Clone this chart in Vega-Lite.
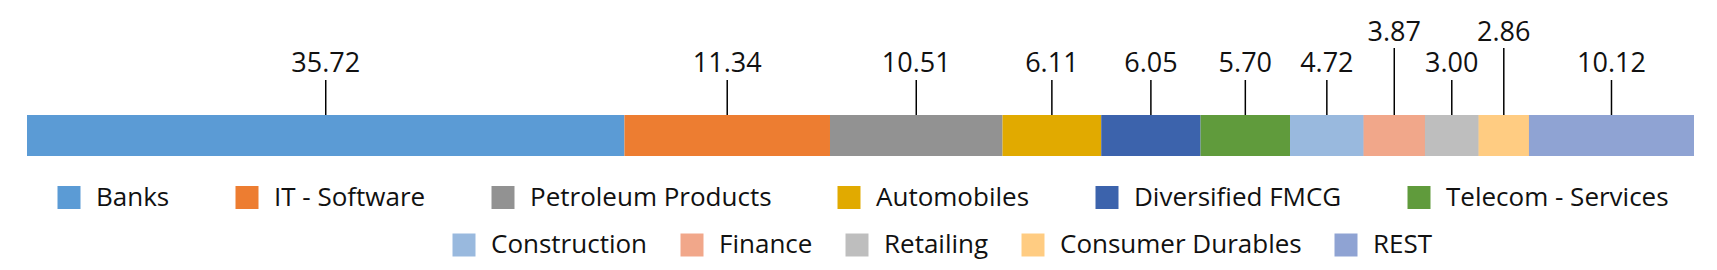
{
  "$schema": "https://vega.github.io/schema/vega-lite/v6.json",
  "autosize": "none",
  "width": 1667,
  "height": 270,
  "padding": {"left": 27, "right": 23, "top": 0, "bottom": 0},
  "background": "white",
  "config": {
    "view": {"stroke": null},
    "text": {"font": "Open Sans"},
    "legend": {"labelFont": "Open Sans", "padding": 0}
  },
  "data": {
    "values": [
      {"sector": "Banks", "value": 35.72, "share": 35.84, "idx": 1},
      {"sector": "IT - Software", "value": 11.34, "share": 12.33, "idx": 2},
      {"sector": "Petroleum Products", "value": 10.51, "share": 10.35, "idx": 3},
      {"sector": "Automobiles", "value": 6.11, "share": 5.92, "idx": 4},
      {"sector": "Diversified FMCG", "value": 6.05, "share": 5.96, "idx": 5},
      {"sector": "Telecom - Services", "value": 5.70, "share": 5.37, "idx": 6},
      {"sector": "Construction", "value": 4.72, "share": 4.41, "idx": 7},
      {"sector": "Finance", "value": 3.87, "share": 3.68, "idx": 8},
      {"sector": "Retailing", "value": 3.00, "share": 3.22, "idx": 9},
      {"sector": "Consumer Durables", "value": 2.86, "share": 3.02, "idx": 10},
      {"sector": "REST", "value": 10.12, "share": 9.90, "idx": 11}
    ]
  },
  "transform": [
    {"stack": "share", "groupby": [], "sort": [{"field": "idx", "order": "ascending"}], "as": ["x0", "x1"]}
  ],
  "layer": [
    {
      "mark": {"type": "bar"},
      "encoding": {
        "x": {"field": "x0", "type": "quantitative", "axis": null, "scale": {"domain": [0, 100], "nice": false, "zero": true}},
        "x2": {"field": "x1"},
        "y": {"datum": 115, "type": "quantitative", "axis": null, "scale": {"domain": [0, 270], "reverse": true, "nice": false, "zero": false}},
        "y2": {"datum": 156},
        "color": {
          "field": "sector", "type": "nominal",
          "scale": {
            "domain": ["Banks", "IT - Software", "Petroleum Products", "Automobiles", "Diversified FMCG", "Telecom - Services", "Construction", "Finance", "Retailing", "Consumer Durables", "REST"],
            "range": ["#5B9BD5", "#ED7D31", "#929292", "#E1AA00", "#3C63AC", "#609B3C", "#99B9DE", "#F1A78A", "#BEBEBE", "#FFCC82", "#8FA3D3"]
          },
          "legend": {
            "title": null,
            "orient": "none",
            "legendX": 29,
            "legendY": 184.5,
            "direction": "horizontal",
            "columns": 6,
            "gridAlign": "none",
            "columnPadding": 64,
            "values": ["Banks", "IT - Software", "Petroleum Products", "Automobiles", "Diversified FMCG", "Telecom - Services"],
            "symbolType": "square",
            "symbolSize": 529,
            "symbolStrokeWidth": 0,
            "labelFontSize": 26,
            "labelColor": "#111111",
            "labelOffset": 14,
            "labelLimit": 500
          }
        }
      }
    },
    {
      "transform": [
        {"filter": {"field": "sector", "oneOf": ["Construction", "Finance", "Retailing", "Consumer Durables", "REST"]}}
      ],
      "mark": {"type": "bar"},
      "encoding": {
        "x": {"field": "x0", "type": "quantitative"},
        "x2": {"field": "x1"},
        "y": {"datum": 115, "type": "quantitative"},
        "y2": {"datum": 156},
        "fill": {
          "field": "sector", "type": "nominal",
          "scale": {
            "domain": ["Construction", "Finance", "Retailing", "Consumer Durables", "REST"],
            "range": ["#99B9DE", "#F1A78A", "#BEBEBE", "#FFCC82", "#8FA3D3"]
          },
          "legend": {
            "title": null,
            "orient": "none",
            "legendX": 424,
            "legendY": 232,
            "direction": "horizontal",
            "columns": 5,
            "gridAlign": "none",
            "columnPadding": 31,
            "symbolType": "square",
            "symbolSize": 529,
            "symbolStrokeWidth": 0,
            "labelFontSize": 26,
            "labelColor": "#111111",
            "labelOffset": 14,
            "labelLimit": 500
          }
        }
      }
    },
    {
      "mark": {"type": "rule", "color": "#000000", "strokeWidth": 1.5},
      "encoding": {
        "x": {"field": "share", "type": "quantitative", "stack": "zero", "bandPosition": 0.5},
        "y": {"datum": 80, "type": "quantitative"},
        "y2": {"datum": 115},
        "order": {"field": "idx", "type": "quantitative"},
        "detail": {"field": "sector", "type": "nominal"},
        "strokeOpacity": {"condition": {"test": "datum.sector === 'Finance' || datum.sector === 'Consumer Durables'", "value": 0}, "value": 1}
      }
    },
    {
      "mark": {"type": "rule", "color": "#000000", "strokeWidth": 1.5},
      "encoding": {
        "x": {"field": "share", "type": "quantitative", "stack": "zero", "bandPosition": 0.5},
        "y": {"datum": 48, "type": "quantitative"},
        "y2": {"datum": 115},
        "order": {"field": "idx", "type": "quantitative"},
        "detail": {"field": "sector", "type": "nominal"},
        "strokeOpacity": {"condition": {"test": "datum.sector === 'Finance' || datum.sector === 'Consumer Durables'", "value": 1}, "value": 0}
      }
    },
    {
      "mark": {"type": "text", "fontSize": 27, "color": "#111111", "align": "center", "baseline": "alphabetic"},
      "encoding": {
        "x": {"field": "share", "type": "quantitative", "stack": "zero", "bandPosition": 0.5},
        "y": {"datum": 71.5, "type": "quantitative"},
        "order": {"field": "idx", "type": "quantitative"},
        "detail": {"field": "sector", "type": "nominal"},
        "text": {"condition": {"test": "datum.sector === 'Finance' || datum.sector === 'Consumer Durables'", "value": ""}, "field": "value", "type": "quantitative", "format": ".2f"}
      }
    },
    {
      "mark": {"type": "text", "fontSize": 27, "color": "#111111", "align": "center", "baseline": "alphabetic"},
      "encoding": {
        "x": {"field": "share", "type": "quantitative", "stack": "zero", "bandPosition": 0.5},
        "y": {"datum": 41.3, "type": "quantitative"},
        "order": {"field": "idx", "type": "quantitative"},
        "detail": {"field": "sector", "type": "nominal"},
        "text": {"condition": {"test": "datum.sector === 'Finance' || datum.sector === 'Consumer Durables'", "field": "value", "type": "quantitative", "format": ".2f"}, "value": ""}
      }
    }
  ]
}
